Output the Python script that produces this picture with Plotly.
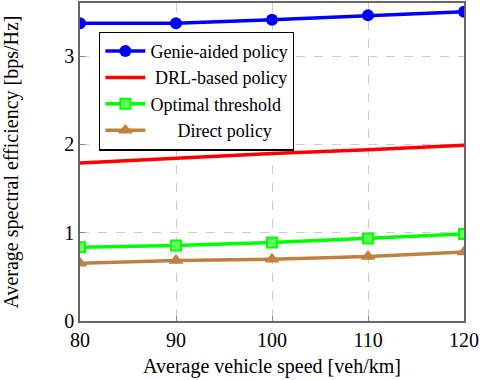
import plotly.graph_objects as go

speed = [80, 90, 100, 110, 120]
genie = [3.37, 3.37, 3.41, 3.46, 3.50]
drl = [1.79, 1.845, 1.895, 1.94, 1.99]
optimal = [0.835, 0.855, 0.89, 0.935, 0.985]
direct = [0.655, 0.685, 0.70, 0.73, 0.78]

font = "Liberation Serif"

fig = go.Figure()
fig.add_trace(go.Scatter(x=speed, y=genie, mode="lines+markers", name="Genie-aided policy",
                         line=dict(color="#0000FF", width=3.5),
                         marker=dict(symbol="circle", size=12, color="#0000FF")))
fig.add_trace(go.Scatter(x=speed, y=drl, mode="lines", name="\u00a0DRL-based policy",
                         line=dict(color="#FF0000", width=3.5)))
fig.add_trace(go.Scatter(x=speed, y=optimal, mode="lines+markers", name="Optimal threshold",
                         line=dict(color="#00FF00", width=3.5),
                         marker=dict(symbol="square", size=10, color="#66FF66",
                                     line=dict(color="#00FF00", width=2))))
fig.add_trace(go.Scatter(x=speed, y=direct, mode="lines+markers",
                         name="\u00a0\u00a0\u00a0\u00a0\u00a0\u00a0Direct policy",
                         line=dict(color="#BF8040", width=3.5),
                         marker=dict(symbol="triangle-up", size=13, color="#BF8040")))

axis_common = dict(showline=True, linecolor="#666666", linewidth=1.5, mirror=True,
                   showgrid=True, gridcolor="#CCCCCC", griddash="dash", gridwidth=1,
                   zeroline=False, ticks="inside", ticklen=5, tickcolor="#888888",
                   ticklabeloverflow="allow",
                   tickfont=dict(family=font, size=20, color="black"))

fig.update_layout(
    width=480, height=380,
    margin=dict(l=80, r=12, t=1, b=59),
    plot_bgcolor="white", paper_bgcolor="white",
    font=dict(family=font, size=20, color="black"),
    xaxis=dict(range=[80, 120], tickvals=speed,
               title=dict(text="Average vehicle speed [veh/km]", font=dict(family=font, size=20), standoff=9),
               **axis_common),
    yaxis=dict(range=[0, 3.6], tickvals=[0, 1, 2, 3],
               title=dict(text="Average spectral efficiency [bps/Hz]", font=dict(family=font, size=20), standoff=40),
               automargin=False, **axis_common),
    legend=dict(x=0.05, y=0.91, xanchor="left", yanchor="top",
                bgcolor="white", bordercolor="black", borderwidth=1.2,
                font=dict(family=font, size=18), tracegroupgap=0, itemwidth=40),
)

fig.write_html("out.html", config={"displayModeBar": False},
               post_script="document.body.style.margin='0';")
